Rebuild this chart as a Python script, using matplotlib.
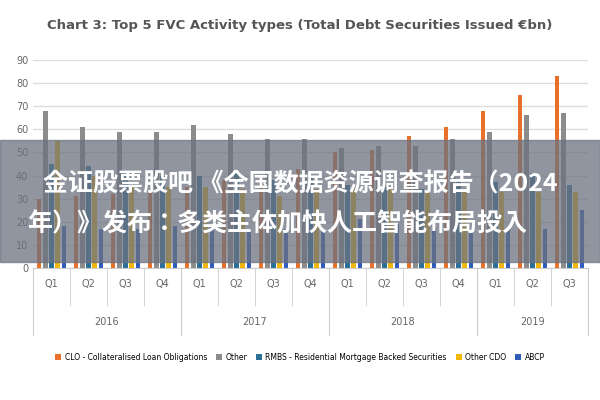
import matplotlib
matplotlib.use("Agg")
import matplotlib.pyplot as plt
import numpy as np

quarters = ["Q1","Q2","Q3","Q4"]*3 + ["Q1","Q2","Q3"]
years = ["2016","2017","2018","2019"]
year_counts = [4,4,4,3]
clo = [30,31,32,33,35,38,38,43,50,51,57,61,68,75,83]
other = [68,61,59,59,62,58,56,56,52,53,53,56,59,66,67]
rmbs = [45,44,40,40,40,41,38,39,36,35,34,38,37,41,36]
other_cdo = [55,40,35,35,35,34,31,34,34,34,33,33,33,33,33]
abcp = [18,17,17,18,18,17,17,17,21,19,17,16,17,17,25]
series = [("CLO - Collateralised Loan Obligations", clo, "#e8702a"),
          ("Other", other, "#8c8c8c"),
          ("RMBS - Residential Mortgage Backed Securities", rmbs, "#2a6f97"),
          ("Other CDO", other_cdo, "#f2b705"),
          ("ABCP", abcp, "#2e5cb8")]

cjk = ["Noto Sans CJK SC", "Noto Sans CJK JP", "Noto Sans CJK TC", "DejaVu Sans"]

fig = plt.figure(figsize=(6,4), dpi=100)
ax = fig.add_axes([0.055, 0.33, 0.925, 0.52])
x = np.arange(len(quarters))
w = 0.13
for i,(name, vals, c) in enumerate(series):
    ax.bar(x + (i-2)*0.17, vals, w, color=c, label=name)
ax.set_ylim(0, 90)
ax.set_yticks(range(0, 91, 10))
ax.set_xlim(-0.5, len(quarters)-0.5)
ax.grid(axis="y", color="#dddddd", lw=1)
ax.set_axisbelow(True)
for s in ["top","right","left"]:
    ax.spines[s].set_visible(False)
ax.spines["bottom"].set_color("#cccccc")
ax.tick_params(axis="y", length=0, labelsize=7, labelcolor="#666666")
ax.set_xticks(x)
ax.set_xticklabels(quarters, fontsize=7, color="#666666")
ax.tick_params(axis="x", length=0, pad=8)
start = 0
for yr, n in zip(years, year_counts):
    ax.text(start + (n-1)/2, -0.26, yr, transform=ax.get_xaxis_transform(),
            ha="center", va="center", fontsize=7, color="#666666")
    start += n
bounds = np.cumsum([0]+year_counts) - 0.5
for b in bounds:
    ax.plot([b, b], [0, -0.32], transform=ax.get_xaxis_transform(), clip_on=False, color="#cccccc", lw=0.8)
for q in x[:-1]:
    ax.plot([q+0.5, q+0.5], [0, -0.18], transform=ax.get_xaxis_transform(), clip_on=False, color="#cccccc", lw=0.6)

fig.text(0.5, 0.935, "Chart 3: Top 5 FVC Activity types (Total Debt Securities Issued €bn)",
         ha="center", va="center", fontsize=9.5, color="#555555", fontweight="bold")
fig.legend(loc="center", bbox_to_anchor=(0.5, 0.107), ncol=5, fontsize=5.5,
           frameon=False, handlelength=0.8, handleheight=0.8, columnspacing=1.2, handletextpad=0.4)

fig.patches.append(plt.Rectangle((0, 0.345), 1, 0.305, transform=fig.transFigure,
                                 color="#6b7280", alpha=0.75, zorder=5))
fig.text(0.5, 0.538, "金证股票股吧 《全国数据资源调查报告（2024", ha="center", va="center",
         fontsize=18, color="white", fontweight="bold", family=cjk, zorder=6)
fig.text(0.045, 0.44, "年）》发布：多类主体加快人工智能布局投入", ha="left", va="center",
         fontsize=18, color="white", fontweight="bold", family=cjk, zorder=6)
fig.savefig("out.png", dpi=100)
